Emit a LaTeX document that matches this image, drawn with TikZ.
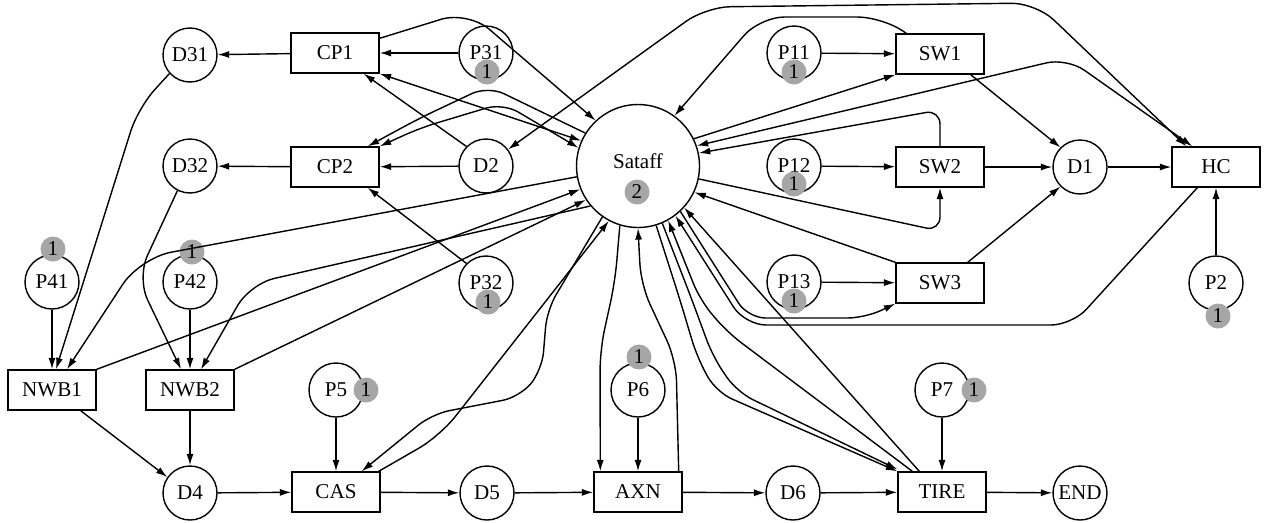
\documentclass[tikz,border=0pt]{standalone}
\usepackage{fontspec}
\setmainfont{Liberation Serif}
\usetikzlibrary{arrows.meta,calc}
\definecolor{tokgray}{RGB}{166,166,166}

\begin{document}
\begin{tikzpicture}[x=0.02cm, y=-0.02cm, line width=0.8pt, font=\fontsize{12}{14}\selectfont,
  place/.style={circle, draw, inner sep=0pt, minimum size=1.08cm},
  trans/.style={rectangle, draw, inner sep=0pt, minimum width=1.76cm, minimum height=0.8cm},
  staff/.style={circle, draw, inner sep=0pt, minimum size=2.46cm},
  token/.style={circle, fill=tokgray, inner sep=0pt, minimum size=0.5cm},
  flow/.style={-{Latex[length=6.5pt,width=4pt]}},
  twoway/.style={{Latex[length=6.5pt,width=4pt]}-{Latex[length=6.5pt,width=4pt]}}]

\useasboundingbox (0,0) rectangle (1264,522);

\node (d31) [place] at (190,55) {D31};
\node (cp1) [trans] at (335,53) {CP1};
\node (p31) [place] at (486,53) {P31};
\node (d32) [place] at (190,166) {D32};
\node (cp2) [trans] at (335,167) {CP2};
\node (d2) [place] at (486,166) {D2};

\node (sataff) [staff] at (638,166) {};
\node (sataffname) at (638,161) {Sataff};

\node (p11) [place] at (794,53) {P11};
\node (sw1) [trans] at (940,54) {SW1};
\node (p12) [place] at (794,166) {P12};
\node (sw2) [trans] at (940,167) {SW2};
\node (d1) [place] at (1080,167) {D1};
\node (hc) [trans] at (1216,167) {HC};
\node (p13) [place] at (794,282) {P13};
\node (sw3) [trans] at (940,283) {SW3};
\node (p2) [place] at (1216,283) {P2};

\node (p41) [place] at (52,282) {P41};
\node (p42) [place] at (190,282) {P42};
\node (p32) [place] at (486,283) {P32};
\node (nwb1) [trans] at (52,390) {NWB1};
\node (nwb2) [trans] at (190,390) {NWB2};
\node (p5) [place] at (336,390) {P5};
\node (p6) [place] at (638,390) {P6};
\node (p7) [place] at (942,390) {P7};

\node (d4) [place] at (190,493) {D4};
\node (cas) [trans] at (336,492) {CAS};
\node (d5) [place] at (487,493) {D5};
\node (axn) [trans] at (638,492) {AXN};
\node (d6) [place] at (793,493) {D6};
\node (tire) [trans] at (942,492) {TIRE};
\node (endp) [place] at (1080,493) {END};

\node (tk31) [token] at (487,72) {1};
\node (tk11) [token] at (794,72) {1};
\node (tk12) [token] at (794,184) {1};
\node (tk13) [token] at (794,301) {1};
\node (tk32) [token] at (488,302) {1};
\node (tk2) [token] at (1218,316) {1};
\node (tk41) [token] at (53,249) {1};
\node (tk42) [token] at (192,252) {1};
\node (tk5) [token] at (366,390) {1};
\node (tk6) [token] at (639,357) {1};
\node (tk7) [token] at (974,390) {1};
\node (tks) [token] at (637,192) {2};

\draw [flow] (cp1) -- (d31);
\draw [flow] (p31) -- (cp1);
\draw [flow] (d2.135) -- ($(cp1.south east)+(-16,0)$);
\draw [twoway] (cp1.south east) -- (sataff.156);
\draw [flow, rounded corners=16pt] ($(cp1.north east)+(0,6)$) -- (468,11) -- (sataff.133);
\draw [flow] (cp2) -- (d32);
\draw [flow] (d2) -- (cp2);
\draw [flow] (p32.135) -- ($(cp2.south east)+(-12,0)$);
\draw [flow, rounded corners=10pt] (sataff.148) -- (488,86) -- (420,118) -- ($(cp2.north east)+(-12,0)$);
\draw [twoway, rounded corners=10pt] (cp2.north east) -- (420,128) -- (503,103) -- (sataff.163);

\draw [twoway, rounded corners=14pt] (d2.37) -- (706,7) -- (1036,3) -- ($(hc.north west)+(15,0)$);
\draw [twoway, rounded corners=12pt] (sataff.19) -- (1067,58) -- ($(hc.north west)+(21,0)$);
\draw [flow] (sataff.26) -- (sw1.south west);
\draw [flow, rounded corners=14pt] ($(sw1.north west)+(11,0)$) -- (882,17) -- (760,17) -- (sataff.54);
\draw [flow] (p11) -- (sw1);
\draw [flow] ($(sw1.south east)+(-14,0)$) -- (d1.135);
\draw [flow] (p12) -- (sw2);
\draw [flow] (sw2) -- (d1);
\draw [flow, rounded corners=8pt] (sw2.north) -- (940,110) -- (sataff.12);
\draw [flow, rounded corners=8pt] (sataff.-12) -- (940,231) -- (sw2.south);
\draw [flow] (p13) -- (sw3);
\draw [flow] (sw3.north west) -- (sataff.-25);
\draw [flow, rounded corners=10pt] (sataff.-47) -- (748,318) -- (865,318) -- (sw3.south west);
\draw [flow] ($(sw3.north east)+(-17,0)$) -- (d1.-135);
\draw [flow] (d1) -- (hc);
\draw [flow] (p2) -- (hc);
\draw [flow, rounded corners=12pt] ($(hc.south west)+(26,0)$) -- (1072,325) -- (745,325) -- (sataff.-53);

\draw [flow, rounded corners=14pt] (d31.-138) -- (138,108) -- ($(nwb1.north)+(4,0)$);
\draw [flow] (p41) -- (nwb1);
\draw [flow, rounded corners=18pt] (sataff.190) -- (140,258) -- ($(nwb1.north)+(15,0)$);
\draw [flow] (nwb1.north east) -- (sataff.-158);
\draw [flow, rounded corners=14pt] (d32.-117) -- (137,278) -- ($(nwb2.north)+(-9,0)$);
\draw [flow] (p42) -- (nwb2);
\draw [flow, rounded corners=14pt] (sataff.-140) -- (250,284) -- ($(nwb2.north)+(11,0)$);
\draw [flow] (nwb2.north east) -- (sataff.-147);
\draw [flow] ($(nwb1.south east)+(-16,0)$) -- (d4.145);
\draw [flow] (nwb2) -- (d4);

\draw [flow] (d4) -- (cas);
\draw [flow] (p5) -- (cas);
\draw [flow] (cas) -- (d5);
\draw [flow] (d5) -- (axn);
\draw [flow] (p6) -- (axn);
\draw [flow] (axn) -- (d6);
\draw [flow] (d6) -- (tire);
\draw [flow] (p7) -- (tire);
\draw [flow] (tire) -- (endp);

\draw [flow, rounded corners=10pt] (sataff.-125) -- (547,310) -- (542,370) -- (520,397) -- (432,414) -- ($(cas.north east)+(-19,0)$);
\draw [flow, rounded corners=14pt] ($(cas.north east)+(-2,0)$) -- (440,436) -- (sataff.-118);
\draw [flow, rounded corners=12pt] (sataff.-107) -- (615,282) -- (600,350) -- ($(axn.north west)+(7,0)$);
\draw [flow, rounded corners=12pt] ($(axn.north east)+(-4,0)$) -- (676,360) -- (641,285) -- (sataff.-90);
\draw [flow, rounded corners=10pt] (sataff.-73) -- (680,300) -- (697,357) -- (716,392) -- (tire.north west);
\draw [flow, rounded corners=10pt] (sataff.-67) -- (692,300) -- (713,357) -- (737,392) -- ($(tire.north west)+(0,-2)$);
\draw [flow, rounded corners=10pt] ($(tire.north west)+(15,0)$) -- (727,332) -- (700,300) -- (sataff.-61);
\draw [flow] ($(tire.north west)+(22,0)$) -- (sataff.-42);

\end{tikzpicture}
\end{document}
